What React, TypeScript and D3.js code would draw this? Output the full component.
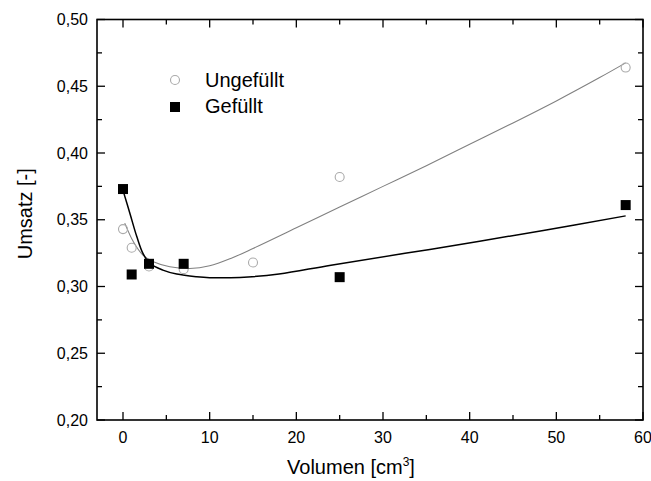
import React from "react";
import * as d3 from "d3";

// Measured conversion (Umsatz) against filled volume
const volUngefuellt = [0, 1, 3, 7, 15, 25, 58];
const umsatzUngefuellt = [0.343, 0.329, 0.315, 0.313, 0.318, 0.382, 0.464];

const volGefuellt = [0, 1, 3, 7, 25, 58];
const umsatzGefuellt = [0.373, 0.309, 0.317, 0.317, 0.307, 0.361];

// Fitted trend curves, sampled
const fitUngefuelltX = [0.2, 1.2, 2.3, 3.5, 5.4, 7.7, 10, 12.5, 15, 20, 25, 30, 35, 40, 45, 50, 55, 58];
const fitUngefuelltY = [0.3475, 0.3335, 0.3235, 0.3185, 0.3148, 0.3135, 0.3155, 0.3212, 0.3285, 0.344, 0.3595, 0.375, 0.3905, 0.4065, 0.4225, 0.439, 0.4565, 0.4675];

const fitGefuelltX = [0, 0.8, 1.6, 2.3, 3.1, 4.6, 6.2, 8.5, 10, 13.5, 18, 24, 35.4, 48.5, 58];
const fitGefuelltY = [0.372, 0.3547, 0.3372, 0.3248, 0.3173, 0.3123, 0.3093, 0.3073, 0.3066, 0.3068, 0.3093, 0.316, 0.3278, 0.342, 0.3529];

const xTicks = [0, 10, 20, 30, 40, 50, 60];
const xMinor = [5, 15, 25, 35, 45, 55];
const yTicks = [0.2, 0.25, 0.3, 0.35, 0.4, 0.45, 0.5];
const yMinor = [0.225, 0.275, 0.325, 0.375, 0.425, 0.475];

const legendLabels = ["Ungefüllt", "Gefüllt"];

const W = 651;
const H = 481;
const M = { left: 97, right: 643, top: 19.5, bottom: 420 };

export default function App() {
  const x = d3.scaleLinear().domain([-3, 60]).range([M.left, M.right]);
  const y = d3.scaleLinear().domain([0.2, 0.5]).range([M.bottom, M.top]);
  const fmt = (v: number) => d3.format(".2f")(v).replace(".", ",");

  const line = d3
    .line<[number, number]>()
    .x((d) => x(d[0]))
    .y((d) => y(d[1]))
    .curve(d3.curveCatmullRom.alpha(0.5));

  const grayPath = line(fitUngefuelltX.map((v, i) => [v, fitUngefuelltY[i]]));
  const blackPath = line(fitGefuelltX.map((v, i) => [v, fitGefuelltY[i]]));

  const font = "Arial, 'Liberation Sans', sans-serif";
  const major = 8;
  const minor = 5;
  const tickFont = 16;

  return (
    <svg
      width={W}
      height={H}
      style={{ position: "absolute", left: 0, top: 0, background: "#fff" }}
      fontFamily={font}
    >
      <rect x={0} y={0} width={W} height={H} fill="#fff" />

      {/* fit curves */}
      <path d={grayPath ?? ""} fill="none" stroke="#808080" strokeWidth={1.1} />
      <path d={blackPath ?? ""} fill="none" stroke="#000" strokeWidth={1.5} />

      {/* markers */}
      {volUngefuellt.map((v, i) => (
        <circle
          key={"c" + i}
          cx={x(v)}
          cy={y(umsatzUngefuellt[i])}
          r={4.5}
          fill="none"
          stroke="#aaaaaa"
          strokeWidth={1.1}
        />
      ))}
      {volGefuellt.map((v, i) => (
        <rect
          key={"s" + i}
          x={x(v) - 5}
          y={y(umsatzGefuellt[i]) - 5}
          width={10}
          height={10}
          fill="#000"
        />
      ))}

      {/* frame */}
      <rect
        x={M.left}
        y={M.top}
        width={M.right - M.left}
        height={M.bottom - M.top}
        fill="none"
        stroke="#000"
        strokeWidth={1.6}
      />

      {/* x ticks, bottom and top, pointing inward */}
      {xTicks.map((t) => (
        <g key={"xt" + t}>
          <line x1={x(t)} x2={x(t)} y1={M.bottom} y2={M.bottom - major} stroke="#000" strokeWidth={1.3} />
          <line x1={x(t)} x2={x(t)} y1={M.top} y2={M.top + major} stroke="#000" strokeWidth={1.3} />
          <text x={x(t)} y={M.bottom + 23} fontSize={tickFont} textAnchor="middle">
            {t}
          </text>
        </g>
      ))}
      {xMinor.map((t) => (
        <g key={"xm" + t}>
          <line x1={x(t)} x2={x(t)} y1={M.bottom} y2={M.bottom - minor} stroke="#000" strokeWidth={1.3} />
          <line x1={x(t)} x2={x(t)} y1={M.top} y2={M.top + minor} stroke="#000" strokeWidth={1.3} />
        </g>
      ))}

      {/* y ticks, left and right, pointing inward */}
      {yTicks.map((t) => (
        <g key={"yt" + t}>
          <line x1={M.left} x2={M.left + major} y1={y(t)} y2={y(t)} stroke="#000" strokeWidth={1.3} />
          <line x1={M.right} x2={M.right - major} y1={y(t)} y2={y(t)} stroke="#000" strokeWidth={1.3} />
          <text x={M.left - 9} y={y(t) + 5.5} fontSize={tickFont} textAnchor="end">
            {fmt(t)}
          </text>
        </g>
      ))}
      {yMinor.map((t) => (
        <g key={"ym" + t}>
          <line x1={M.left} x2={M.left + minor} y1={y(t)} y2={y(t)} stroke="#000" strokeWidth={1.3} />
          <line x1={M.right} x2={M.right - minor} y1={y(t)} y2={y(t)} stroke="#000" strokeWidth={1.3} />
        </g>
      ))}

      {/* axis titles */}
      <text x={351} y={474} fontSize={20} textAnchor="middle">
        Volumen [cm
        <tspan dy={-8} fontSize={12}>3</tspan>
        <tspan dy={8}>]</tspan>
      </text>
      <text
        transform={`translate(32, ${(M.top + M.bottom) / 2 - 6}) rotate(-90)`}
        fontSize={20}
        textAnchor="middle"
      >
        Umsatz [-]
      </text>

      {/* legend */}
      <circle cx={175} cy={80} r={4.5} fill="none" stroke="#aaaaaa" strokeWidth={1.1} />
      <text x={205} y={87} fontSize={20}>
        {legendLabels[0]}
      </text>
      <rect x={170} y={102} width={10} height={10} fill="#000" />
      <text x={205} y={113} fontSize={20}>
        {legendLabels[1]}
      </text>
    </svg>
  );
}
